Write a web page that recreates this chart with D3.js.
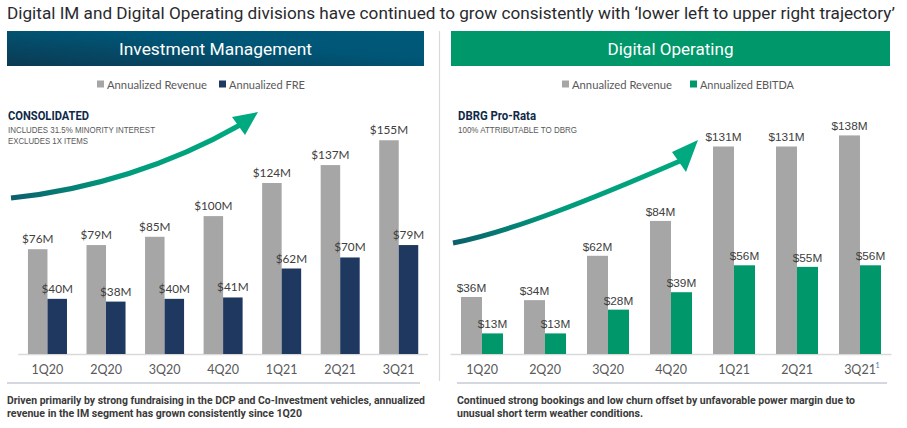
<!DOCTYPE html>
<html><head><meta charset="utf-8">
<script src="https://cdn.jsdelivr.net/npm/d3@7"></script>
<style>body{margin:0;background:#fff}svg{display:block}</style>
</head><body>
<script>
const categories = ["1Q20","2Q20","3Q20","4Q20","1Q21","2Q21","3Q21"];
const imRevenue = [76,79,85,100,124,137,155];
const imFRE = [40,38,40,41,62,70,79];
const opRevenue = [36,34,62,84,131,131,138];
const opEBITDA = [13,13,28,39,56,55,56];
const title = "Digital IM and Digital Operating divisions have continued to grow consistently with \u2018lower left to upper right trajectory\u2019";

const W=907,H=428;
const svg=d3.select("body").append("svg").attr("width",W).attr("height",H);
const defs=svg.append("defs");
const hg=defs.append("linearGradient").attr("id","hdr").attr("x1","0").attr("y1","1").attr("x2","1").attr("y2","0");
hg.append("stop").attr("offset","0").attr("stop-color","#0b3a52");
hg.append("stop").attr("offset","0.6").attr("stop-color","#005677");
hg.append("stop").attr("offset","1").attr("stop-color","#005a7a");

svg.append("text").attr("x",7).attr("y",19).attr("font-family","Roboto").attr("font-size",17)
  .attr("fill","#2a2a2e").attr("textLength",888).attr("lengthAdjust","spacingAndGlyphs").text(title);

// headers
svg.append("rect").attr("x",7).attr("y",31).attr("width",417).attr("height",35).attr("fill","url(#hdr)");
svg.append("text").attr("x",215.5).attr("y",55).attr("text-anchor","middle").attr("font-family","Roboto").attr("font-size",17)
  .attr("fill","#fff").attr("textLength",193).attr("lengthAdjust","spacingAndGlyphs").text("Investment Management");
svg.append("rect").attr("x",451).attr("y",31).attr("width",439).attr("height",35).attr("fill","#00976a");
svg.append("text").attr("x",670.5).attr("y",55).attr("text-anchor","middle").attr("font-family","Roboto").attr("font-size",17)
  .attr("fill","#fff").attr("textLength",126).attr("lengthAdjust","spacingAndGlyphs").text("Digital Operating");

// vertical divider
svg.append("line").attr("x1",439.5).attr("x2",439.5).attr("y1",31).attr("y2",381).attr("stroke","#d9d9d9").attr("stroke-width",1.2);

function arrow(id, d, tip, c1, c2, x0, x1){
  const g=defs.append("linearGradient").attr("id",id).attr("gradientUnits","userSpaceOnUse")
    .attr("x1",x0).attr("y1",0).attr("x2",x1).attr("y2",0);
  g.append("stop").attr("offset","0").attr("stop-color","#0b5f6c");
  g.append("stop").attr("offset","0.45").attr("stop-color","#009b7c");
  g.append("stop").attr("offset","1").attr("stop-color","#00aa7f");
  svg.append("path").attr("d",d).attr("fill","none").attr("stroke",`url(#${id})`).attr("stroke-width",5);
  svg.append("polygon").attr("points",[tip,c1,c2].map(p=>p.join(",")).join(" ")).attr("fill","#00a97f");
}

function panel(o){
  const x=d3.scaleBand().domain(categories).range([o.x0,o.x1]).paddingInner(1/3).paddingOuter(1/6);
  const xs=d3.scaleBand().domain(["a","b"]).range([0,x.bandwidth()]);
  const y=d3.scaleLinear().domain([0,100]).range([o.base,o.base-o.per100]);
  const g=svg.append("g");
  // legend
  o.legend.forEach(l=>{
    g.append("rect").attr("x",l.x).attr("y",80.5).attr("width",7).attr("height",7).attr("fill",l.color);
    g.append("text").attr("x",l.x+10).attr("y",88.5).attr("font-family",o.font).attr("font-size",12).attr("fill","#595959")
      .attr("textLength",l.w).attr("lengthAdjust","spacingAndGlyphs").text(l.label);
  });
  // subtitle
  g.append("text").attr("x",o.tx).attr("y",120).attr("font-family","Roboto").attr("font-weight",700).attr("font-size",12)
    .attr("fill","#0f2a48").attr("textLength",o.headW).attr("lengthAdjust","spacingAndGlyphs").text(o.head);
  o.notes.forEach((t,i)=>g.append("text").attr("x",o.tx).attr("y",133+i*11).attr("font-family","Liberation Sans")
    .attr("font-size",8.6).attr("fill","#595959").attr("textLength",t.w).attr("lengthAdjust","spacingAndGlyphs").text(t.t));
  if(o.arrow) o.arrow();
  // axis line
  g.append("line").attr("x1",o.x0).attr("x2",o.x1).attr("y1",o.base+0.5).attr("y2",o.base+0.5).attr("stroke","#d9d9d9").attr("stroke-width",1.5);
  const series=[{k:"a",v:o.s1,c:"#a6a6a6"},{k:"b",v:o.s2,c:o.c2}];
  series.forEach(s=>{
    g.selectAll(null).data(categories).enter().append("rect")
      .attr("x",d=>x(d)+xs(s.k)).attr("width",xs.bandwidth())
      .attr("y",(d,i)=>y(s.v[i])).attr("height",(d,i)=>o.base-y(s.v[i])).attr("fill",s.c);
    g.selectAll(null).data(categories).enter().append("text")
      .attr("x",d=>x(d)+xs(s.k)+xs.bandwidth()/2).attr("y",(d,i)=>y(s.v[i])-o.lblOff)
      .attr("text-anchor","middle").attr("font-family",o.lfont).attr("font-size",o.lsize).attr("fill","#404040")
      .text((d,i)=>"$"+s.v[i]+"M");
  });
  // category labels
  const ax=d3.axisBottom(x).tickSize(0).tickPadding(0);
  const axg=g.append("g").attr("transform",`translate(0,${o.base+20})`).call(ax);
  axg.select(".domain").remove();
  axg.selectAll("text").attr("font-family",o.font).attr("font-size",12.5).attr("fill","#595959").attr("dy",0);
  if(o.sup){
    const last=axg.selectAll(".tick").filter(d=>d==="3Q21");
    last.append("text").attr("x",15.5).attr("y",-6).attr("text-anchor","start").attr("font-family",o.font).attr("font-size",7)
      .attr("fill","#4a6fa5").text("1");
  }
  // divider
  g.append("line").attr("x1",o.d0).attr("x2",o.d1).attr("y1",383).attr("y2",383).attr("stroke","#a9b0bf").attr("stroke-width",1);
  o.foot.forEach((f,i)=>g.append("text").attr("x",o.d0).attr("y",404+i*12.5).attr("font-family","Roboto").attr("font-weight",700)
    .attr("font-size",10.5).attr("fill","#3a3a3a").attr("textLength",f.w).attr("lengthAdjust","spacingAndGlyphs").text(f.t));
}

panel({x0:18.2,x1:428,base:354,per100:137.9,s1:imRevenue,s2:imFRE,c2:"#1f385f",font:"Lato",lfont:"Lato",lsize:11.8,lblOff:6,
  legend:[{x:97,color:"#a6a6a6",label:"Annualized Revenue",w:100},{x:219,color:"#1f385f",label:"Annualized FRE",w:76}],
  tx:8,head:"CONSOLIDATED",headW:81,notes:[{t:"INCLUDES 31.5% MINORITY INTEREST",w:147},{t:"EXCLUDES 1X ITEMS",w:80}],
  arrow:()=>arrow("ga","M11,198 C90,190 170,165 240,125",[258,112],[232,117],[245,135],11,250),
  d0:7,d1:420,foot:[{t:"Driven primarily by strong fundraising in the DCP and Co-Investment vehicles, annualized",w:418},{t:"revenue in the IM segment has grown consistently since 1Q20",w:295}]});

panel({x0:450.5,x1:891.5,base:354,per100:158.4,s1:opRevenue,s2:opEBITDA,c2:"#00976a",font:"Lato",lfont:"Liberation Sans",lsize:11.8,lblOff:5,sup:true,
  legend:[{x:562,color:"#a6a6a6",label:"Annualized Revenue",w:100},{x:690,color:"#00976a",label:"Annualized EBITDA",w:94}],
  tx:458,head:"DBRG Pro-Rata",headW:78,notes:[{t:"100% ATTRIBUTABLE TO DBRG",w:119}],
  arrow:()=>arrow("gb","M453,243 C510,232 590,200 680,161",[698,140],[672,152],[686,172],453,690),
  d0:457,d1:887,foot:[{t:"Continued strong bookings and low churn offset by unfavorable power margin due to",w:398},{t:"unusual short term weather conditions.",w:186}]});
</script>
</body></html>
